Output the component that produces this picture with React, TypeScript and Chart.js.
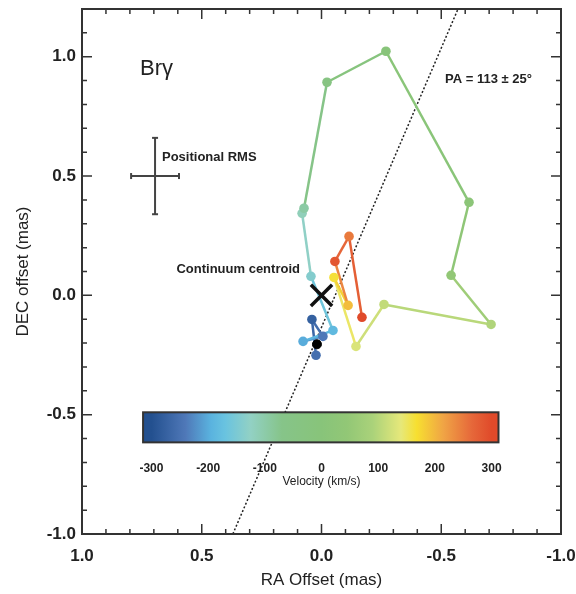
import React, { useEffect, useRef } from "react";
import { Chart, registerables } from "chart.js";
Chart.register(...registerables);

// Photocentre track (RA offset, DEC offset in mas) with velocity of each channel (km/s)
const raOffset = [0.023, 0.040, -0.006, 0.077, -0.048, 0.044, 0.081, 0.073, -0.023, -0.269, -0.616, -0.541, -0.708, -0.261, -0.144, -0.052, -0.111, -0.056, -0.115, -0.169];
const decOffset = [-0.251, -0.101, -0.172, -0.193, -0.147, 0.080, 0.344, 0.365, 0.893, 1.023, 0.390, 0.084, -0.122, -0.038, -0.214, 0.075, -0.042, 0.142, 0.247, -0.092];
const velocity = [-255, -275, -240, -200, -185, -140, -115, -95, -40, 0, 20, 45, 95, 110, 130, 165, 195, 285, 250, 300];

const blackDotRa = [0.019];
const blackDotDec = [-0.205];
const centroidRa = [0];
const centroidDec = [0];
const paLineRa = [0.37, -0.57];
const paLineDec = [-1.0, 1.2];
const rmsCenter = [0.695, 0.5];
const rmsError = [0.1, 0.16];

const xTickValues = [1.0, 0.5, 0.0, -0.5, -1.0];
const yTickValues = [-1.0, -0.5, 0.0, 0.5, 1.0];
const cbarTicks = [-300, -200, -100, 0, 100, 200, 300];
const stopVel = [-300, -240, -195, -170, -125, -70, 0, 45, 90, 140, 168, 215, 265, 300];
const stopCol = ["#23508f", "#4f78b8", "#5ab3df", "#69c3e0", "#92d1c4", "#86c489", "#88c47a", "#92c776", "#aad27a", "#e6e87a", "#f7df30", "#f0a445", "#e6683a", "#e04a2a"];

const FONT = "'Liberation Sans', Helvetica, Arial, sans-serif";

function hex(c: string) {
  return [1, 3, 5].map((i) => parseInt(c.slice(i, i + 2), 16));
}
function colorFor(v: number) {
  if (v <= stopVel[0]) return stopCol[0];
  for (let i = 1; i < stopVel.length; i++) {
    if (v <= stopVel[i]) {
      const t = (v - stopVel[i - 1]) / (stopVel[i] - stopVel[i - 1]);
      const a = hex(stopCol[i - 1]);
      const b = hex(stopCol[i]);
      const m = a.map((x, k) => Math.round(x + (b[k] - x) * t));
      return `rgb(${m[0]},${m[1]},${m[2]})`;
    }
  }
  return stopCol[stopCol.length - 1];
}

const overlayPlugin = {
  id: "overlay",
  afterDatasetsDraw(chart: any) {
    const { ctx, scales } = chart;
    const X = (v: number) => scales.x.getPixelForValue(v);
    const Y = (v: number) => scales.y.getPixelForValue(v);
    ctx.save();
    // colour bar
    const velToRa = (v: number) => (-v * 0.71) / 300;
    const bx0 = X(0.745), bx1 = X(-0.739), by0 = Y(-0.49), by1 = Y(-0.616);
    const g = ctx.createLinearGradient(X(velToRa(-300)), 0, X(velToRa(300)), 0);
    stopVel.forEach((v, i) => g.addColorStop((v + 300) / 600, stopCol[i]));
    ctx.fillStyle = g;
    ctx.fillRect(bx0, by0, bx1 - bx0, by1 - by0);
    ctx.strokeStyle = "#333";
    ctx.lineWidth = 2;
    ctx.strokeRect(bx0, by0, bx1 - bx0, by1 - by0);
    ctx.fillStyle = "#222";
    ctx.font = `bold 12px ${FONT}`;
    ctx.textAlign = "center";
    ctx.textBaseline = "middle";
    cbarTicks.forEach((v) => ctx.fillText(String(v), X(velToRa(v)), Y(-0.727)));
    ctx.font = `12px ${FONT}`;
    ctx.fillText("Velocity (km/s)", X(0), Y(-0.779));

    // annotations
    ctx.textAlign = "left";
    ctx.font = `22px ${FONT}`;
    ctx.fillText("Br\u03b3", X(0.758), Y(0.947));
    ctx.font = `bold 13px ${FONT}`;
    ctx.fillText("PA = 113 \u00b1 25\u00b0", X(-0.516), Y(0.905));
    ctx.fillText("Positional RMS", X(0.666), Y(0.578));
    ctx.textAlign = "right";
    ctx.fillText("Continuum centroid", X(0.09), Y(0.109));
    ctx.restore();
  },
  afterDraw(chart: any) {
    const { ctx, chartArea: a, scales } = chart;
    ctx.save();
    ctx.strokeStyle = "#333";
    ctx.lineWidth = 1.5;
    for (let i = -10; i <= 10; i++) {
      const px = scales.x.getPixelForValue(i / 10);
      const len = i % 5 === 0 ? 10 : 5;
      ctx.beginPath();
      ctx.moveTo(px, a.bottom); ctx.lineTo(px, a.bottom - len);
      ctx.moveTo(px, a.top); ctx.lineTo(px, a.top + len);
      ctx.stroke();
    }
    for (let i = -10; i <= 12; i++) {
      const py = scales.y.getPixelForValue(i / 10);
      const len = i % 5 === 0 ? 10 : 5;
      ctx.beginPath();
      ctx.moveTo(a.left, py); ctx.lineTo(a.left + len, py);
      ctx.moveTo(a.right, py); ctx.lineTo(a.right - len, py);
      ctx.stroke();
    }
    ctx.lineWidth = 2;
    ctx.strokeRect(a.left, a.top, a.right - a.left, a.bottom - a.top);
    // tick labels
    ctx.fillStyle = "#222";
    ctx.font = `bold 17px ${FONT}`;
    ctx.textBaseline = "middle";
    ctx.textAlign = "center";
    xTickValues.forEach((v) => ctx.fillText(v.toFixed(1), scales.x.getPixelForValue(v), a.bottom + 22));
    ctx.textAlign = "right";
    yTickValues.forEach((v) => ctx.fillText(v.toFixed(1), a.left - 6, scales.y.getPixelForValue(v)));
    ctx.restore();
  },
};

export default function App() {
  const ref = useRef<HTMLCanvasElement>(null);
  useEffect(() => {
    document.body.style.margin = "0";
    const pts = raOffset.map((x, i) => ({ x, y: decOffset[i] }));
    const ptColors = velocity.map(colorFor);
    const chart = new Chart(ref.current!, {
      type: "scatter",
      data: {
        datasets: [
          {
            data: centroidRa.map((x, i) => ({ x, y: centroidDec[i] })),
            pointStyle: "crossRot",
            pointRadius: 15,
            borderWidth: 3.5,
            borderColor: "#111",
            backgroundColor: "#111",
          },
          {
            data: blackDotRa.map((x, i) => ({ x, y: blackDotDec[i] })),
            pointRadius: 4.5,
            backgroundColor: "#000",
            borderColor: "#000",
          },
          {
            data: pts,
            showLine: true,
            borderWidth: 2.5,
            pointRadius: 4.8,
            pointBorderWidth: 0,
            pointBackgroundColor: ptColors,
            borderColor: ptColors[0],
            segment: {
              borderColor: (c: any) => colorFor((velocity[c.p0DataIndex] + velocity[c.p1DataIndex]) / 2),
            },
          } as any,
          {
            data: paLineRa.map((x, i) => ({ x, y: paLineDec[i] })),
            showLine: true,
            borderColor: "#222",
            borderWidth: 1.5,
            borderDash: [2, 2],
            pointRadius: 0,
          },
          {
            data: [
              { x: rmsCenter[0] + rmsError[0], y: rmsCenter[1] },
              { x: rmsCenter[0] - rmsError[0], y: rmsCenter[1] },
            ],
            showLine: true,
            borderColor: "#444",
            borderWidth: 2,
            pointStyle: "line",
            pointRotation: 90,
            pointRadius: 3,
            pointBorderWidth: 2,
            pointBorderColor: "#444",
          },
          {
            data: [
              { x: rmsCenter[0], y: rmsCenter[1] + rmsError[1] },
              { x: rmsCenter[0], y: rmsCenter[1] - rmsError[1] },
            ],
            showLine: true,
            borderColor: "#444",
            borderWidth: 2,
            pointStyle: "line",
            pointRotation: 0,
            pointRadius: 3,
            pointBorderWidth: 2,
            pointBorderColor: "#444",
          },
        ],
      },
      options: {
        animation: false,
        responsive: false,
        events: [],
        layout: { autoPadding: false, padding: { top: 9, right: 15, left: 0, bottom: 0 } },
        plugins: { legend: { display: false }, tooltip: { enabled: false } },
        scales: {
          x: {
            type: "linear",
            min: -1,
            max: 1,
            reverse: true,
            grid: { display: false, drawTicks: false },
            border: { display: false },
            ticks: { display: false, stepSize: 0.5 },
            title: {
              display: true,
              text: "RA Offset (mas)",
              color: "#222",
              font: { family: FONT, size: 17 },
              padding: { top: 0, bottom: 3 },
            },
            afterFit: (s: any) => { s.height = 60; },
          },
          y: {
            type: "linear",
            min: -1,
            max: 1.2,
            grid: { display: false, drawTicks: false },
            border: { display: false },
            ticks: { display: false, stepSize: 0.5 },
            title: {
              display: true,
              text: "DEC offset (mas)",
              color: "#222",
              font: { family: FONT, size: 17 },
              padding: { top: 13, bottom: 0 },
            },
            afterFit: (s: any) => { s.width = 82; },
          },
        },
      },
      plugins: [overlayPlugin],
    });
    return () => chart.destroy();
  }, []);
  return (
    <div style={{ width: 576, height: 594, background: "#fff" }}>
      <canvas ref={ref} width={576} height={594} />
    </div>
  );
}
